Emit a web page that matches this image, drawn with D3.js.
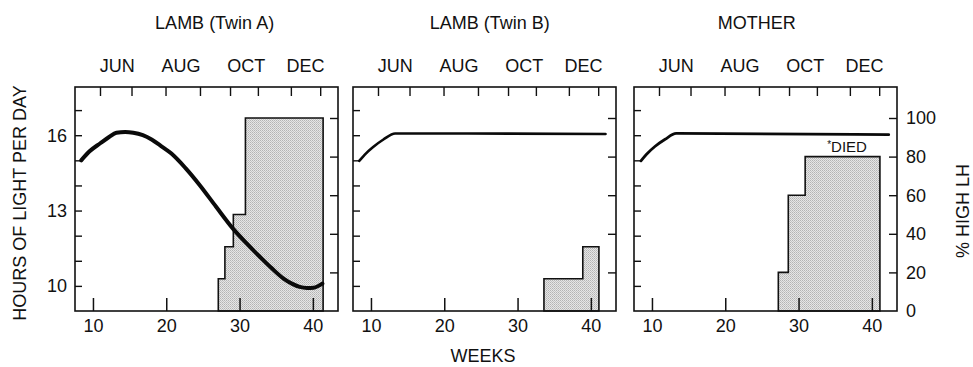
<!DOCTYPE html>
<html>
<head>
<meta charset="utf-8">
<script src="https://cdn.jsdelivr.net/npm/d3@7"></script>
<style>
  html, body { margin: 0; padding: 0; background: #fff; }
  svg { display: block; }
  text { font-family: "Liberation Sans", Arial, Helvetica, sans-serif; fill: #111; }
</style>
</head>
<body>
<svg id="chart" width="973" height="367"></svg>
<script>
// ---------------- data ----------------
const panelTitles = ["LAMB (Twin A)", "LAMB (Twin B)", "MOTHER"];
const titleWeeks = [26.6, 26.2, 24.3];

const monthLabels = ["JUN", "AUG", "OCT", "DEC"];
const monthLabelWeeks = [13.3, 22.0, 30.9, 39.0];
const monthTickWeeks = [10.96, 15.26, 19.9, 24.6, 28.7, 32.5, 37.0, 41.0];

const weekTicks = [10, 20, 30, 40];
const hourTicks = [10, 11, 12, 13, 14, 15, 16, 17];
const hourTickLabels = [10, 13, 16];
const pctTicks = [20, 40, 60, 80, 100];
const pctTickLabels = [0, 20, 40, 60, 80, 100];

// light curve (hours of light per day) per panel
const twinAWeeks = [8.4, 9.5, 11.0, 12.2, 13.2, 14.4, 15.5, 16.8, 18.0, 19.3, 20.7, 22.6, 24.6, 26.8, 29.1, 31.0, 32.8, 34.4, 36.0, 37.2, 38.2, 39.2, 40.1, 41.3];
const twinAHours = [15.0, 15.35, 15.68, 15.93, 16.1, 16.13, 16.1, 16.0, 15.83, 15.57, 15.27, 14.7, 14.0, 13.15, 12.28, 11.68, 11.15, 10.7, 10.29, 10.08, 9.96, 9.92, 9.93, 10.09];
const twinBWeeks = [8.4, 9.3, 10.3, 11.7, 13.3, 42.0];
const twinBHours = [14.98, 15.27, 15.53, 15.83, 16.07, 16.05];
const motherWeeks = [8.5, 9.4, 10.4, 11.8, 13.3, 42.3];
const motherHours = [14.98, 15.28, 15.55, 15.84, 16.07, 16.02];

// % high LH step histograms: step start weeks, values, end week
const twinAStepWeeks = [27.1, 28.0, 29.15, 30.8];
const twinAStepPct = [16.7, 33.3, 50, 100];
const twinAStepEnd = 41.4;
const twinBStepWeeks = [33.6, 38.9];
const twinBStepPct = [16.7, 33.3];
const twinBStepEnd = 41.1;
const motherStepWeeks = [27.24, 28.6, 30.9];
const motherStepPct = [20, 60, 80];
const motherStepEnd = 41.1;

const diedLabel = "DIED";
const diedWeek = 33.9;
const diedPct = 82.4;

// ---------------- layout ----------------
const panelX0 = [75, 353, 634];
const panelW = 263;
const plotTop = 87, plotBottom = 311;
const weekDomain = [7.55, 43.43];
const hourDomain = [9, 17.92];
const pctDomain = [0, 116.06];

const panels = [
  { weeks: twinAWeeks, hours: twinAHours, sw: twinAStepWeeks, sp: twinAStepPct, se: twinAStepEnd, lw: 4 },
  { weeks: twinBWeeks, hours: twinBHours, sw: twinBStepWeeks, sp: twinBStepPct, se: twinBStepEnd, lw: 2.6 },
  { weeks: motherWeeks, hours: motherHours, sw: motherStepWeeks, sp: motherStepPct, se: motherStepEnd, lw: 2.8 }
];

const svg = d3.select("#chart");

// stipple pattern
const defs = svg.append("defs");
const pat = defs.append("pattern").attr("id", "stip").attr("width", 2).attr("height", 2)
  .attr("patternUnits", "userSpaceOnUse");
pat.append("rect").attr("width", 2).attr("height", 2).attr("fill", "#e6e6e6");
pat.append("rect").attr("width", 1).attr("height", 1).attr("fill", "#b4b4b4");
pat.append("rect").attr("x", 1).attr("y", 1).attr("width", 1).attr("height", 1).attr("fill", "#c4c4c4");

const y = d3.scaleLinear().domain(hourDomain).range([plotBottom, plotTop]);
const yp = d3.scaleLinear().domain(pctDomain).range([plotBottom, plotTop]);

panels.forEach((p, i) => {
  const x0 = panelX0[i];
  const x = d3.scaleLinear().domain(weekDomain).range([x0, x0 + panelW]);
  const g = svg.append("g");

  // step histogram
  const pts = [[p.sw[0], 0]];
  p.sw.forEach((w, k) => {
    pts.push([w, p.sp[k]]);
    const nextW = k < p.sw.length - 1 ? p.sw[k + 1] : p.se;
    pts.push([nextW, p.sp[k]]);
  });
  pts.push([p.se, 0]);
  g.append("path")
    .attr("d", d3.line().x(d => x(d[0])).y(d => yp(d[1]))(pts) + "Z")
    .attr("fill", "url(#stip)")
    .attr("stroke", "#111")
    .attr("stroke-width", 1.6);

  // frame
  g.append("rect")
    .attr("x", x0).attr("y", plotTop).attr("width", panelW).attr("height", plotBottom - plotTop)
    .attr("fill", "none").attr("stroke", "#111").attr("stroke-width", 1.6);

  // top month ticks (inward)
  g.append("g").attr("transform", `translate(0,${plotTop})`)
    .call(d3.axisTop(x).tickValues(monthTickWeeks).tickSize(-9).tickFormat(""))
    .call(a => a.select(".domain").remove())
    .call(a => a.selectAll("line").attr("stroke", "#111").attr("stroke-width", 1.4));

  // month labels
  g.selectAll(".mon").data(monthLabels).enter().append("text")
    .attr("x", (d, k) => x(monthLabelWeeks[k]))
    .attr("y", 72)
    .attr("text-anchor", "middle")
    .attr("font-size", 18)
    .text(d => d);

  // title
  g.append("text")
    .attr("x", x(titleWeeks[i])).attr("y", 29)
    .attr("text-anchor", "middle").attr("font-size", 18)
    .text(panelTitles[i]);

  // bottom week axis (inward ticks)
  g.append("g").attr("transform", `translate(0,${plotBottom})`)
    .call(d3.axisBottom(x).tickValues(weekTicks).tickSize(-13).tickPadding(8).tickFormat(d3.format("d")))
    .call(a => a.select(".domain").remove())
    .call(a => a.selectAll("line").attr("stroke", "#111").attr("stroke-width", 1.5))
    .call(a => a.selectAll("text").attr("font-size", 18).attr("fill", "#111")
      .attr("font-family", "'Liberation Sans', Arial, sans-serif"));

  // left hour ticks (inward)
  g.append("g").attr("transform", `translate(${x0},0)`)
    .call(d3.axisLeft(y).tickValues(hourTicks).tickSize(-7).tickFormat(""))
    .call(a => a.select(".domain").remove())
    .call(a => a.selectAll("line").attr("stroke", "#111").attr("stroke-width", 1.4));

  // right pct ticks (inward)
  g.append("g").attr("transform", `translate(${x0 + panelW},0)`)
    .call(d3.axisRight(yp).tickValues(pctTicks).tickSize(-8).tickFormat(""))
    .call(a => a.select(".domain").remove())
    .call(a => a.selectAll("line").attr("stroke", "#111").attr("stroke-width", 1.4));

  // light curve
  g.append("path")
    .datum(p.weeks.map((w, k) => [w, p.hours[k]]))
    .attr("d", d3.line().x(d => x(d[0])).y(d => y(d[1])).curve(d3.curveMonotoneX))
    .attr("fill", "none")
    .attr("stroke", "#0a0a0a")
    .attr("stroke-width", p.lw)
    .attr("stroke-linecap", "round");

  if (i === 0) {
    g.selectAll(".hl").data(hourTickLabels).enter().append("text")
      .attr("x", x0 - 8).attr("y", d => y(d))
      .attr("dy", "0.36em")
      .attr("text-anchor", "end").attr("font-size", 18)
      .text(d => d);
  }
  if (i === 2) {
    g.selectAll(".pl").data(pctTickLabels).enter().append("text")
      .attr("x", x0 + panelW + 9).attr("y", d => yp(d))
      .attr("dy", "0.36em")
      .attr("font-size", 18)
      .text(d => d);
    const t = g.append("text")
      .attr("x", x(diedWeek)).attr("y", yp(diedPct))
      .attr("font-size", 15);
    t.append("tspan").attr("font-size", 10).attr("dy", -4).text("*");
    t.append("tspan").attr("dy", 4).text(diedLabel);
  }
});

// axis titles
svg.append("text")
  .attr("transform", "translate(26,203) rotate(-90)")
  .attr("text-anchor", "middle").attr("font-size", 18)
  .text("HOURS OF LIGHT PER DAY");
svg.append("text")
  .attr("transform", "translate(969,211) rotate(-90)")
  .attr("text-anchor", "middle").attr("font-size", 18)
  .text("% HIGH LH");
svg.append("text")
  .attr("x", 483).attr("y", 362)
  .attr("text-anchor", "middle").attr("font-size", 18)
  .text("WEEKS");
</script>
</body>
</html>
